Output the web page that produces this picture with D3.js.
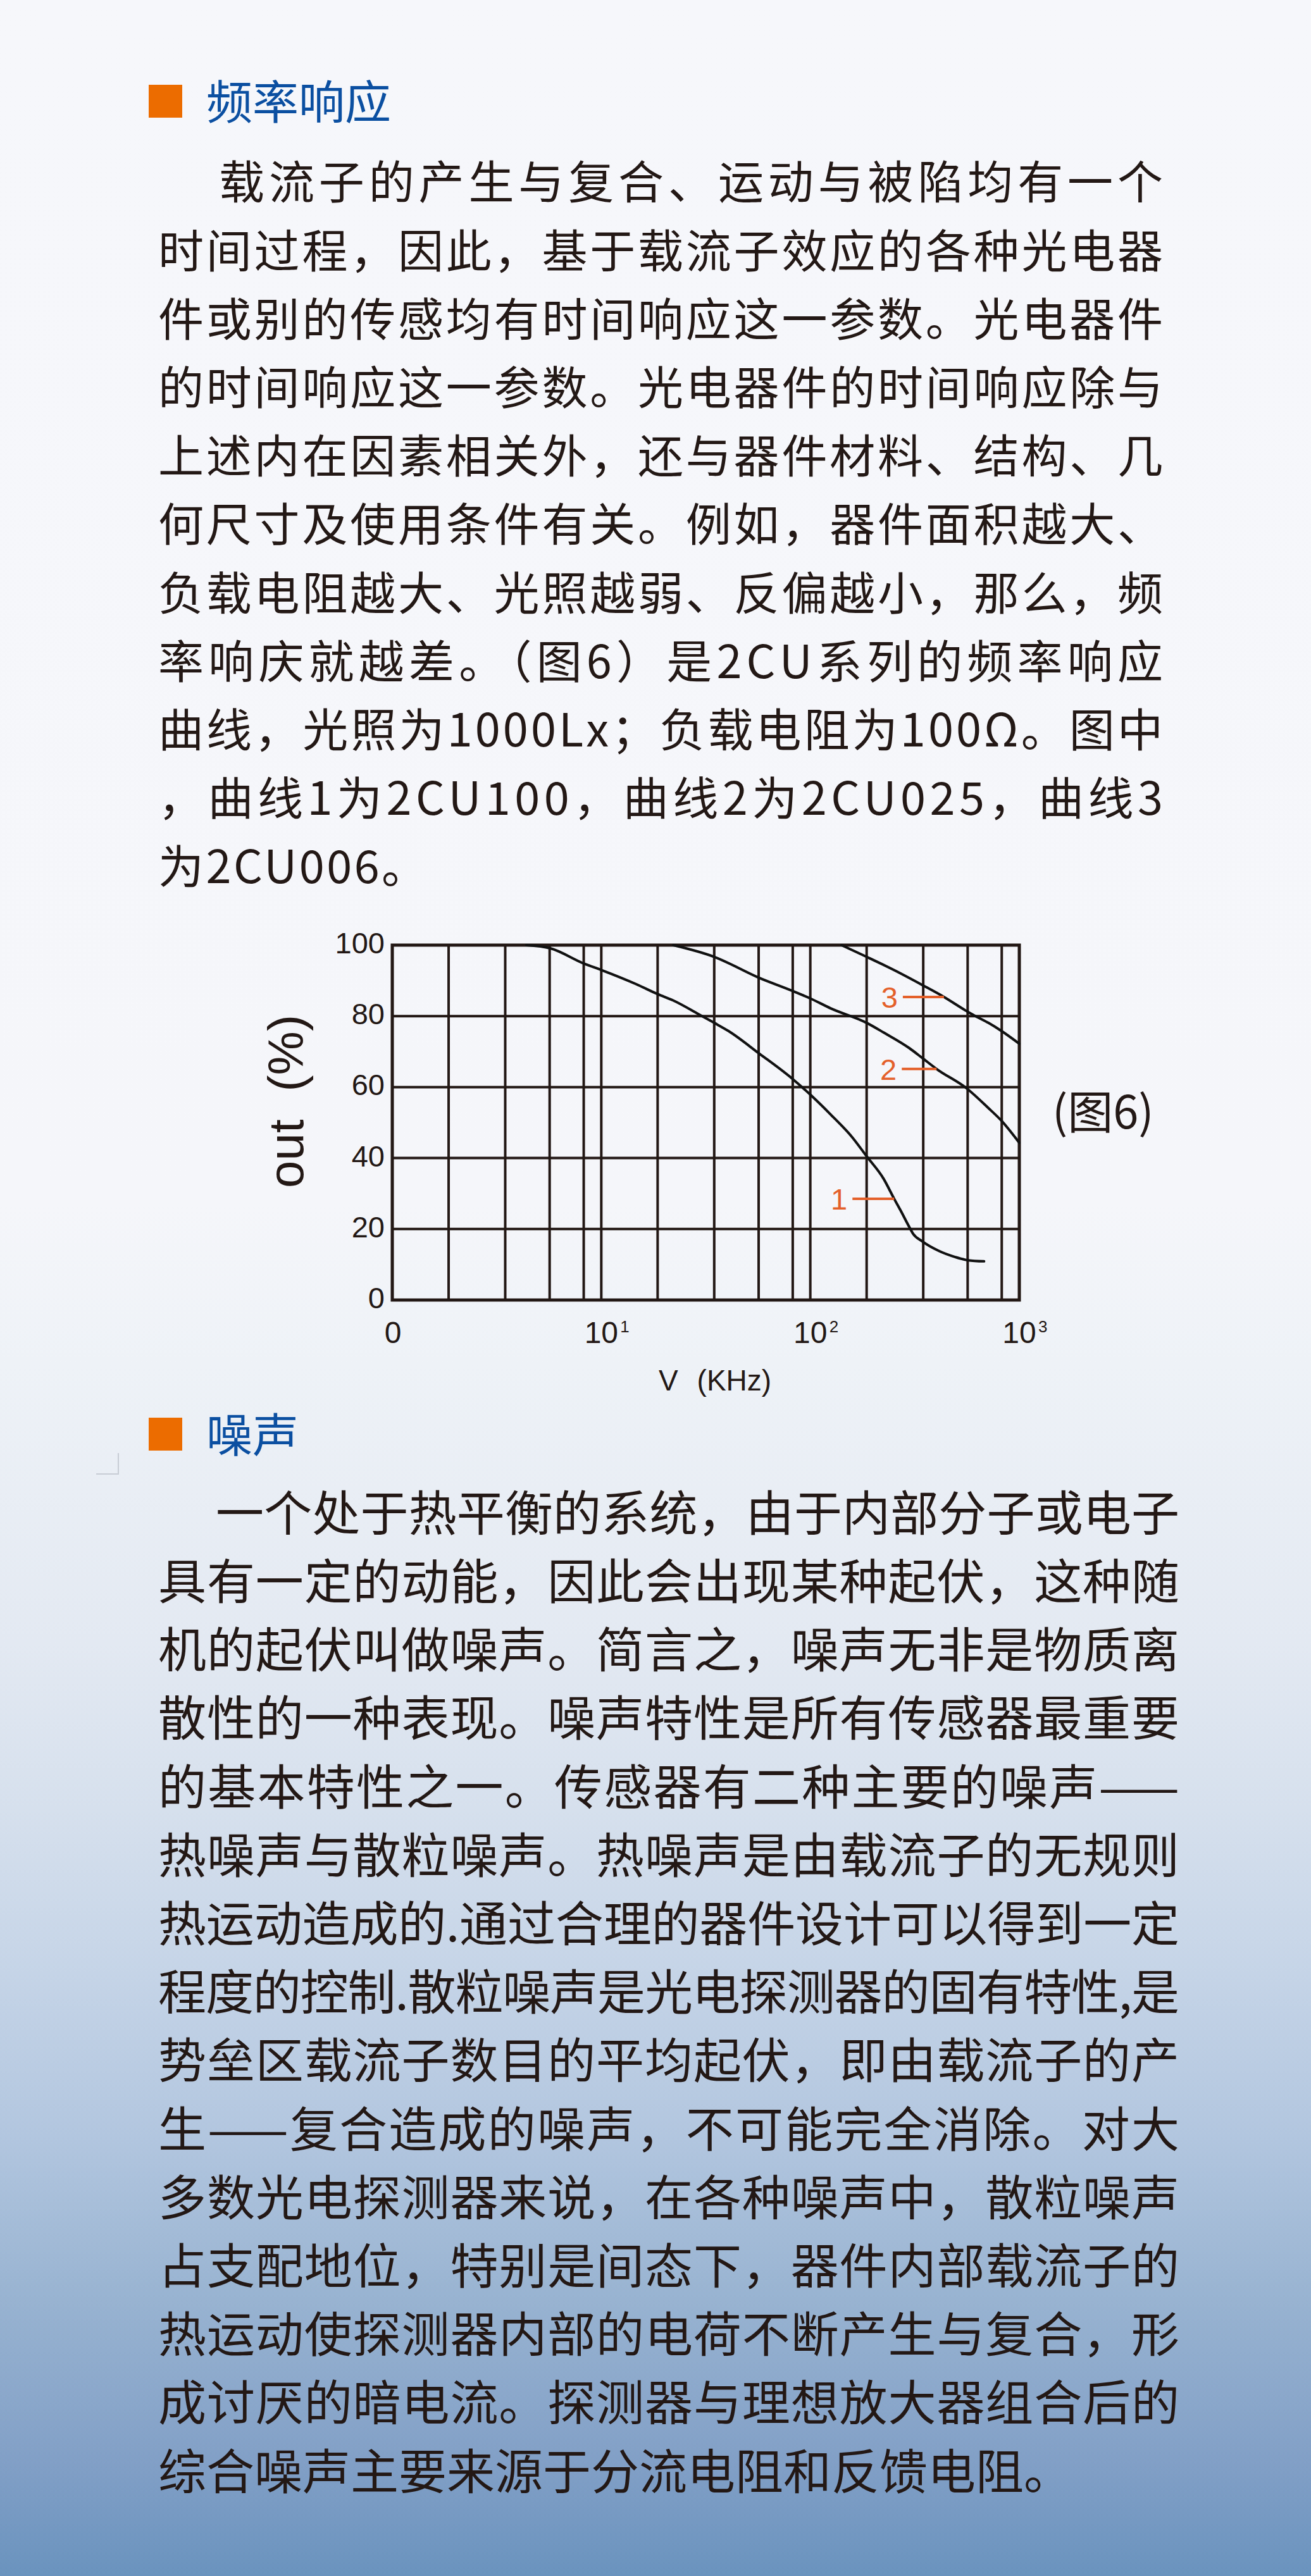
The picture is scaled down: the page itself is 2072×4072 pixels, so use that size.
<!DOCTYPE html>
<html>
<head>
<meta charset="utf-8">
<script src="https://cdn.jsdelivr.net/npm/d3@7"></script>
<style>
  body { margin: 0; }
  svg { display: block; }
</style>
</head>
<body>
<script>
// ---- chart data ----
var yTicks = [0, 20, 40, 60, 80, 100];
var xDecades = [1, 10, 100, 1000];
var xDecadeBase = ["0", "10", "10", "10"];
var xDecadeExp = ["", "1", "2", "3"];
// the drawn grid inside each decade (not quite 2/4/6/8)
var minorSteps = [1.86, 3.47, 5.66, 8.24];

var curveNames = ["1", "2", "3"];
var curve1F = [4.38, 5.70, 8.26, 10.0, 14.7, 18.6, 22.1, 29.5, 34.7, 40.6, 56.8, 82.2, 100.7, 125, 158, 186, 224, 252, 270, 298, 310, 342, 410, 494, 569, 678];
var curve1P = [100, 99.1, 94.8, 93.0, 89.0, 86.2, 84.4, 80.4, 78.1, 75.8, 69.5, 62.3, 57.7, 52.3, 46.0, 40.5, 34.2, 28.5, 25.3, 20.5, 18.7, 16.6, 13.9, 12.1, 11.2, 10.9];
var curve2F = [22.1, 34.7, 56.8, 82.2, 100.7, 125, 186, 224, 299, 345, 402, 564, 711, 822, 1000];
var curve2P = [100, 96.7, 90.8, 87.1, 84.9, 82.2, 78.1, 75.4, 70.9, 68.1, 65.1, 59.5, 54.1, 50.5, 44.3];
var curve3F = [141, 186, 251, 345, 436, 564, 617, 711, 822, 1000];
var curve3P = [100, 96.7, 93.0, 88.7, 85.4, 81.3, 80.0, 78.1, 75.8, 72.2];
// where each leader line touches its curve
var labelF = [252, 402, 436];
var labelP = [28.5, 65.1, 85.4];

var yTitle = ["out", "(%)"];
var xTitle = ["V", "(KHz)"];
var figLabel = "(图6)";

// ---- page text ----
var heading1 = "频率响应";
var heading2 = "噪声";
var para1 = [
  "载流子的产生与复合、运动与被陷均有一个",
  "时间过程，因此，基于载流子效应的各种光电器",
  "件或别的传感均有时间响应这一参数。光电器件",
  "的时间响应这一参数。光电器件的时间响应除与",
  "上述内在因素相关外，还与器件材料、结构、几",
  "何尺寸及使用条件有关。例如，器件面积越大、",
  "负载电阻越大、光照越弱、反偏越小，那么，频",
  "率响庆就越差。（图6）是2CU系列的频率响应",
  "曲线，光照为1000Lx；负载电阻为100Ω。图中",
  "，曲线1为2CU100，曲线2为2CU025，曲线3",
  "为2CU006。"
];
var para2 = [
  "一个处于热平衡的系统，由于内部分子或电子",
  "具有一定的动能，因此会出现某种起伏，这种随",
  "机的起伏叫做噪声。简言之，噪声无非是物质离",
  "散性的一种表现。噪声特性是所有传感器最重要",
  "的基本特性之一。传感器有二种主要的噪声——",
  "热噪声与散粒噪声。热噪声是由载流子的无规则",
  "热运动造成的.通过合理的器件设计可以得到一定",
  "程度的控制.散粒噪声是光电探测器的固有特性,是",
  "势垒区载流子数目的平均起伏，即由载流子的产",
  "生——复合造成的噪声，不可能完全消除。对大",
  "多数光电探测器来说，在各种噪声中，散粒噪声",
  "占支配地位，特别是间态下，器件内部载流子的",
  "热运动使探测器内部的电荷不断产生与复合，形",
  "成讨厌的暗电流。探测器与理想放大器组合后的",
  "综合噪声主要来源于分流电阻和反馈电阻。"
];

var W = 2072, H = 4072;
var ink = "#231815", blue = "#0b4fa1", orange = "#ec6c00", labelOrange = "#e4602a";
var cjk = "'Noto Sans CJK SC', sans-serif";
var latin = "'Liberation Sans', Arial, sans-serif";

var svg = d3.select("body").append("svg")
    .attr("width", W)
    .attr("height", H);

// background gradient
var grad = svg.append("defs").append("linearGradient")
    .attr("id", "bg").attr("x1", 0).attr("y1", 0).attr("x2", 0).attr("y2", 1);
[[0, "#f6f7fb"], [0.467, "#f5f6fa"], [0.529, "#eef2f7"], [0.638, "#e3e9f2"],
 [0.702, "#d6e0ed"], [0.766, "#c5d4e7"], [0.829, "#b2c6df"], [0.893, "#98b3d1"],
 [0.957, "#819fc6"], [1, "#6a93be"]].forEach(function (s) {
    grad.append("stop").attr("offset", s[0]).attr("stop-color", s[1]);
});
svg.append("rect").attr("width", W).attr("height", H).attr("fill", "url(#bg)");

// ---- headings and paragraphs ----
function heading(txt, cy) {
    svg.append("rect")
        .attr("x", 235).attr("y", cy - 26).attr("width", 53).attr("height", 52)
        .attr("fill", orange);
    svg.append("text")
        .attr("x", 326).attr("y", cy + 0.38 * 73)
        .attr("font-family", cjk).attr("font-size", 73)
        .attr("fill", blue)
        .text(txt);
}

function paragraph(lines, top, fs, indentX, right, step, lastSpacing) {
    lines.forEach(function (line, i) {
        var x0 = i === 0 ? indentX : 250;
        var t = svg.append("text")
            .attr("x", x0)
            .attr("y", top + i * step + 0.38 * fs)
            .attr("font-family", cjk).attr("font-size", fs)
            .attr("fill", ink)
            .text(line);
        if (i < lines.length - 1) {
            t.attr("textLength", right - x0).attr("lengthAdjust", "spacing");
        } else {
            t.attr("letter-spacing", lastSpacing);
        }
    });
}

heading(heading1, 160);
paragraph(para1, 287, 72, 346, 1838, 108.2, 3.5);
heading(heading2, 2267);
paragraph(para2, 2391, 76, 341, 1864, 108.2, 0);

// small crop mark left of the second heading
svg.append("path")
    .attr("d", "M187,2297 V2330 H152")
    .attr("fill", "none").attr("stroke", "#c8cdd5").attr("stroke-width", 2);

// ---- chart ----
var x = d3.scaleLog().domain([1, 1000]).range([620, 1611]);
var y = d3.scaleLinear().domain([0, 100]).range([2055, 1494]);

var chart = svg.append("g");

var vLines = [];
xDecades.forEach(function (d, i) {
    vLines.push(d);
    if (i < xDecades.length - 1) {
        minorSteps.forEach(function (s) { vLines.push(d * s); });
    }
});

chart.append("g").selectAll("line")
    .data(vLines)
    .enter().append("line")
    .attr("x1", function (d) { return x(d); })
    .attr("x2", function (d) { return x(d); })
    .attr("y1", y(0)).attr("y2", y(100))
    .attr("stroke", ink).attr("stroke-width", 4);

chart.append("g").selectAll("line")
    .data(yTicks)
    .enter().append("line")
    .attr("x1", x(1)).attr("x2", x(1000))
    .attr("y1", function (d) { return y(d); })
    .attr("y2", function (d) { return y(d); })
    .attr("stroke", ink).attr("stroke-width", 4);

chart.append("rect")
    .attr("x", x(1)).attr("y", y(100))
    .attr("width", x(1000) - x(1)).attr("height", y(0) - y(100))
    .attr("fill", "none").attr("stroke", ink).attr("stroke-width", 5);

// y tick labels
chart.append("g").selectAll("text")
    .data(yTicks)
    .enter().append("text")
    .attr("x", 608)
    .attr("y", function (d) { return y(d) + 13; })
    .attr("text-anchor", "end")
    .attr("font-family", latin).attr("font-size", 47)
    .attr("fill", ink)
    .text(function (d) { return d; });

// x tick labels (10 with superscript exponent)
var xl = chart.append("g").selectAll("g")
    .data(xDecades)
    .enter().append("g");
xl.append("text")
    .attr("x", function (d, i) { return x(d) + (i === 0 ? 1 : 0); })
    .attr("y", 2123)
    .attr("text-anchor", "middle")
    .attr("font-family", latin).attr("font-size", 48)
    .attr("fill", ink)
    .text(function (d, i) { return xDecadeBase[i]; });
xl.append("text")
    .attr("x", function (d) { return x(d) + 30; })
    .attr("y", 2106)
    .attr("font-family", latin).attr("font-size", 26)
    .attr("fill", ink)
    .text(function (d, i) { return xDecadeExp[i]; });

// axis titles
var yt = chart.append("text")
    .attr("transform", "translate(479,1741) rotate(-90)")
    .attr("text-anchor", "middle")
    .attr("font-family", latin).attr("font-size", 78)
    .attr("fill", ink);
yt.append("tspan").text(yTitle[0]);
yt.append("tspan").attr("dx", 44).text(yTitle[1]);

var xt = chart.append("text")
    .attr("x", 1130).attr("y", 2198)
    .attr("text-anchor", "middle")
    .attr("font-family", latin).attr("font-size", 46)
    .attr("fill", ink);
xt.append("tspan").text(xTitle[0]);
xt.append("tspan").attr("dx", 30).text(xTitle[1]);

// curves
var line = d3.line()
    .x(function (d) { return x(d[0]); })
    .y(function (d) { return y(d[1]); })
    .curve(d3.curveMonotoneX);

[[curve1F, curve1P], [curve2F, curve2P], [curve3F, curve3P]].forEach(function (c) {
    var pts = c[0].map(function (f, i) { return [f, c[1][i]]; });
    chart.append("path")
        .datum(pts)
        .attr("d", line)
        .attr("fill", "none")
        .attr("stroke", "#111")
        .attr("stroke-width", 4)
        .attr("stroke-linecap", "round");
});

// curve number labels with leader lines
var leadLen = [66, 55, 65];
curveNames.forEach(function (name, i) {
    var px = x(labelF[i]), py = y(labelP[i]);
    chart.append("line")
        .attr("x1", px - leadLen[i]).attr("x2", px)
        .attr("y1", py).attr("y2", py)
        .attr("stroke", labelOrange).attr("stroke-width", 4);
    chart.append("text")
        .attr("x", px - leadLen[i] - 8)
        .attr("y", py + 17)
        .attr("text-anchor", "end")
        .attr("font-family", latin).attr("font-size", 47)
        .attr("fill", labelOrange)
        .text(name);
});

// figure caption
svg.append("text")
    .attr("x", 1663).attr("y", 1757 + 0.38 * 72)
    .attr("font-family", cjk).attr("font-size", 72)
    .attr("fill", ink)
    .text(figLabel);
</script>
</body>
</html>
